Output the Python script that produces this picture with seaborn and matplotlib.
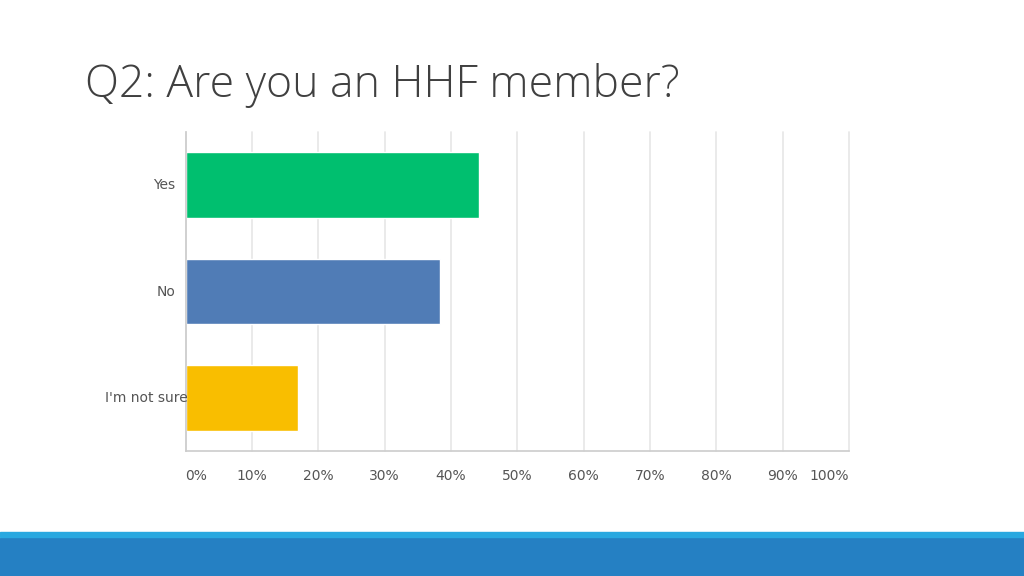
import matplotlib
matplotlib.use("Agg")
import matplotlib.pyplot as plt
import seaborn as sns
import pandas as pd
from matplotlib.patches import Rectangle

categories = ["Yes", "No", "I'm not sure"]
values = [44.2, 38.3, 16.9]
colors = ["#00bf6f", "#507cb6", "#f9be00"]
xticks = [0, 10, 20, 30, 40, 50, 60, 70, 80, 90, 100]
xtick_labels = [f"{v}%" for v in xticks]
title = "Q2: Are you an HHF member?"

sns.set_theme(style="white")
plt.rcParams['font.family'] = ['DejaVu Sans']

W, H = 1024, 576
fig = plt.figure(figsize=(W / 100, H / 100), dpi=100)
ax = fig.add_axes([185.6 / W, 1 - 451 / H, (849.1 - 185.6) / W, (451 - 132) / H])

df = pd.DataFrame({"cat": categories, "val": values})
sns.barplot(data=df, y="cat", x="val", hue="cat", palette=colors, order=categories,
            hue_order=categories, orient="h", width=0.62, legend=False, ax=ax,
            saturation=1)

ax.set_xlim(0, 100)
ax.set_ylim(2.5, -0.5)
ax.set_xticks(xticks)
ax.set_xticklabels(xtick_labels, color="#555555", fontsize=10)
ax.tick_params(axis="x", length=0, pad=13)
ax.grid(axis="x", color="#e6e6e6", linewidth=1.2)
for gl in ax.get_xgridlines():
    gl.set_clip_on(False)
ax.set_axisbelow(True)
ax.set_xlabel("")
ax.set_ylabel("")
ax.set_yticks(range(len(categories)))
ax.set_yticklabels([])
ax.tick_params(axis="y", length=0)
for i, c in enumerate(categories):
    x_off = 175 if i < 2 else 188
    ax.text((x_off - 185.6) / (849.1 - 185.6), i, c, transform=ax.get_yaxis_transform(),
            ha="right", va="center", color="#555555", fontsize=10)
labs = ax.get_xticklabels()
labs[0].set_ha("left")
labs[-1].set_ha("right")

for s in ["top", "right"]:
    ax.spines[s].set_visible(False)
for s in ["left", "bottom"]:
    ax.spines[s].set_color("#cccccc")
    ax.spines[s].set_linewidth(1.2)

fig.text(85 / W, 1 - 85 / H, title, ha="left", va="center", fontsize=32,
         color="#404040", family=["Open Sans", "DejaVu Sans"], fontweight="light")

fig.patches.append(Rectangle((0, 0), 1, (576 - 538) / H, transform=fig.transFigure,
                             color="#2580c3", zorder=0))
fig.patches.append(Rectangle((0, (576 - 537) / H), 1, 5 / H, transform=fig.transFigure,
                             color="#29a8e0", zorder=0))

fig.savefig("out.png", dpi=100)
